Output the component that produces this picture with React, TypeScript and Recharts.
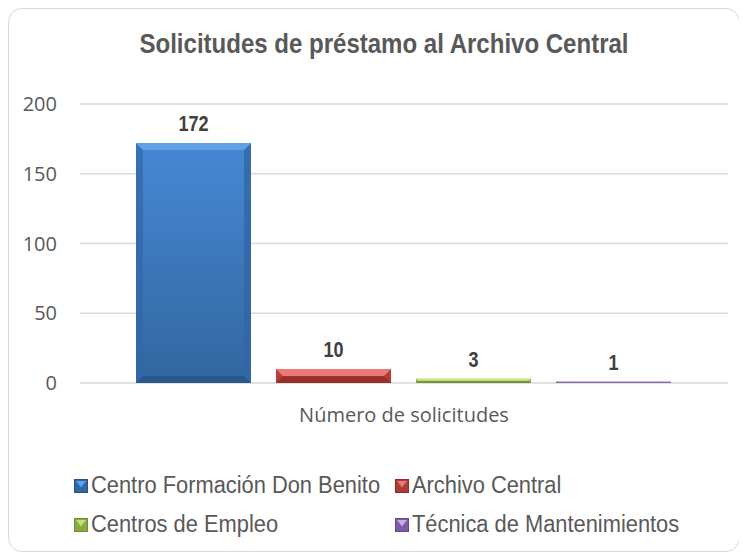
import React from "react";
import { BarChart, Bar, XAxis, YAxis, CartesianGrid, LabelList, Legend } from "recharts";

const categories = ["Número de solicitudes"];
const seriesKeys = ["cfdb", "ac", "ce", "tm"];
const seriesNames = [
  "Centro Formación Don Benito",
  "Archivo Central",
  "Centros de Empleo",
  "Técnica de Mantenimientos",
];
const seriesValues = [172, 10, 3, 1];
const yTicks = [0, 50, 100, 150, 200];

// gradient top / bottom, bevel light edge, side edge, bottom edge
const palette = [
  { top: "#4688d6", bottom: "#33669f", light: "#62a0e6", side: "#3266a6", dark: "#28528a" },
  { top: "#d44c49", bottom: "#b23a38", light: "#ea7875", side: "#b03a38", dark: "#8f2c2a" },
  { top: "#a4c853", bottom: "#8aae3e", light: "#c2df80", side: "#89ab3f", dark: "#6f8c31" },
  { top: "#9878c4", bottom: "#7d5da8", light: "#c4aee2", side: "#7c5ca6", dark: "#64498a" },
];

// no Arial Narrow here, so squeeze Liberation Sans horizontally
const FONT = "'Liberation Sans', Arial, sans-serif";
const TEXT = "#595959";

const data = categories.map((c) => {
  const row: any = { name: c };
  seriesKeys.forEach((k, i) => (row[k] = seriesValues[i]));
  return row;
});

function bevelBar(i: number) {
  return (props: any) => {
    const { x, y, width: w, height: h } = props;
    if (!h || h <= 0) return <g />;
    const c = palette[i];
    const b = Math.min(7, h / 2, w / 2);
    return (
      <g>
        <rect x={x} y={y} width={w} height={h} fill={`url(#grad${i})`} />
        <polygon points={`${x},${y} ${x + b},${y + b} ${x + b},${y + h - b} ${x},${y + h}`} fill={c.side} opacity={0.7} />
        <polygon points={`${x + w},${y} ${x + w},${y + h} ${x + w - b},${y + h - b} ${x + w - b},${y + b}`} fill={c.side} opacity={0.8} />
        <polygon points={`${x},${y + h} ${x + w},${y + h} ${x + w - b},${y + h - b} ${x + b},${y + h - b}`} fill={c.dark} opacity={0.8} />
        <polygon points={`${x},${y} ${x + w},${y} ${x + w - b},${y + b} ${x + b},${y + b}`} fill={c.light} />
      </g>
    );
  };
}

function NarrowLabel(props: any) {
  const { x, y, width, value } = props;
  const cx = x + width / 2;
  return (
    <text
      transform={`translate(${cx},${y - 12}) scale(0.82,1)`}
      textAnchor="middle"
      fontFamily={FONT}
      fontWeight="bold"
      fontSize={22}
      fill="#404040"
    >
      {value}
    </text>
  );
}

function Marker({ i }: { i: number }) {
  const c = palette[i];
  return (
    <svg width={14} height={14} style={{ display: "block", flexShrink: 0 }}>
      <rect x={0} y={0} width={14} height={14} fill={c.side} />
      <polygon points="2,2 12,2 7,8.5" fill={c.light} />
      <rect x={0.5} y={0.5} width={13} height={13} fill="none" stroke={c.dark} strokeWidth={1} />
    </svg>
  );
}

function LegendContent() {
  return (
    <div style={{ display: "grid", gridTemplateColumns: "321px 300px", gridAutoRows: "39px" }}>
      {seriesNames.map((n, i) => (
        <div key={n} style={{ display: "flex", alignItems: "center", gap: 3 }}>
          <Marker i={i} />
          <span
            style={{
              display: "inline-block",
              fontFamily: FONT,
              fontSize: 23,
              color: TEXT,
              whiteSpace: "nowrap",
              transform: "scaleX(0.95)",
              transformOrigin: "left center",
            }}
          >
            {n}
          </span>
        </div>
      ))}
    </div>
  );
}

export default function App() {
  return (
    <div
      style={{
        position: "relative",
        width: 732,
        height: 544,
        boxSizing: "border-box",
        border: "1px solid #d9d9d9",
        borderRadius: 14,
        background: "#fff",
      }}
    >
      <div
        style={{
          position: "absolute",
          top: 21,
          left: 0,
          width: 730,
          paddingLeft: 20,
          boxSizing: "border-box",
          textAlign: "center",
          zIndex: 2,
        }}
      >
        <span
          style={{
            display: "inline-block",
            fontFamily: FONT,
            fontWeight: "bold",
            fontSize: 28,
            lineHeight: "28px",
            color: TEXT,
            whiteSpace: "nowrap",
            transform: "scaleX(0.858)",
          }}
        >
          Solicitudes de préstamo al Archivo Central
        </span>
      </div>
      <BarChart
        width={730}
        height={542}
        data={data}
        margin={{ top: 95, right: 11, bottom: 138, left: 11 }}
        barCategoryGap={56}
        barGap={25}
      >
        <defs>
          {palette.map((c, i) => (
            <linearGradient key={i} id={`grad${i}`} x1="0" y1="0" x2="0" y2="1">
              <stop offset="0%" stopColor={c.top} />
              <stop offset="100%" stopColor={c.bottom} />
            </linearGradient>
          ))}
        </defs>
        <CartesianGrid vertical={false} stroke="#d9d9d9" strokeWidth={1.5} />
        <XAxis
          dataKey="name"
          height={30}
          axisLine={false}
          tickLine={false}
          tickSize={0}
          tickMargin={25}
          tick={{ fontFamily: "'Open Sans', sans-serif", fontSize: 20, fill: TEXT }}
        />
        <YAxis
          width={60}
          domain={[0, 200]}
          ticks={yTicks}
          axisLine={false}
          tickLine={false}
          tickSize={0}
          tickMargin={23}
          tick={{ fontFamily: "'Open Sans', sans-serif", fontSize: 20, fill: TEXT }}
        />
        <Legend
          layout="vertical"
          align="center"
          verticalAlign="middle"
          content={() => <LegendContent />}
          wrapperStyle={{ position: "absolute", left: 65, top: 457, width: 640, height: 78 }}
        />
        {seriesKeys.map((k, i) => (
          <Bar key={k} dataKey={k} name={seriesNames[i]} fill={palette[i].top} shape={bevelBar(i)} isAnimationActive={false}>
            <LabelList dataKey={k} content={NarrowLabel} />
          </Bar>
        ))}
      </BarChart>
    </div>
  );
}
